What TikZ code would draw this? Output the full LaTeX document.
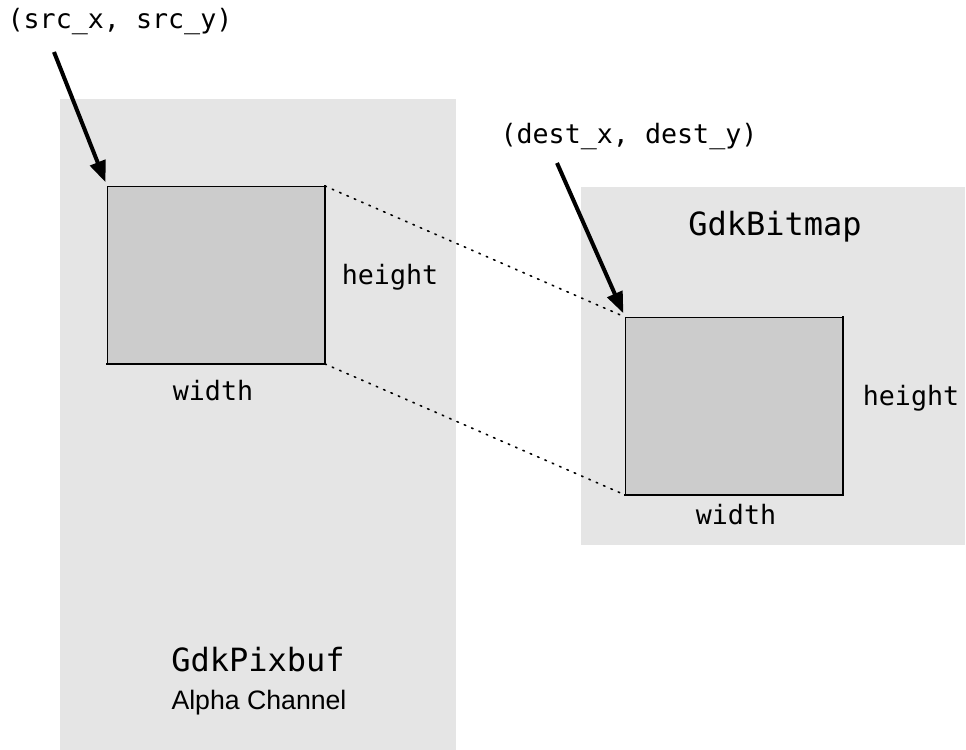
\documentclass[tikz,border=0pt]{standalone}
\usepackage{fontspec}
\setmainfont{Liberation Sans}
\newfontfamily\codefont{DejaVu Sans Mono}
\usetikzlibrary{arrows.meta}
\definecolor{panelgray}{HTML}{E5E5E5}
\definecolor{areagray}{HTML}{CCCCCC}
\tikzset{
  panel/.style={fill=panelgray, draw=none, inner sep=0pt, anchor=north west},
  area/.style={fill=areagray, draw=black, line width=0.7pt, inner sep=0pt,
               anchor=north west, minimum width=162.75pt, minimum height=132.75pt},
  shade edge/.style={line width=1.6pt, line cap=rect},
  codelabel/.style={font=\codefont\fontsize{20}{23}\selectfont, inner sep=0pt},
  titlelabel/.style={font=\codefont\fontsize{24}{28}\selectfont, inner sep=0pt},
  pointer/.style={line width=3pt, -{Triangle[length=16pt, width=12pt]}, shorten >=3pt},
  projection/.style={line width=1.2pt, dash pattern=on 1.2pt off 4.8pt, line cap=round}
}
\begin{document}
\begin{tikzpicture}[x=0.75pt, y=-0.75pt]
  \useasboundingbox (0,0) rectangle (966,749);

  % background surfaces
  \node[panel, minimum width=297pt, minimum height=490pt] (pixbuf) at (60,99) {};
  \node[panel, minimum width=288pt, minimum height=268.5pt] (bitmap) at (581,187) {};

  % copied regions
  \node[area] (src) at (107,186) {};
  \draw[shade edge] (src.north east) -- (src.south east) -- (src.south west);
  \node[area] (dst) at (625,317) {};
  \draw[shade edge] (dst.north east) -- (dst.south east) -- (dst.south west);

  % projection lines between the regions
  \draw[projection] (src.north east) -- (dst.north west);
  \draw[projection] (src.south east) -- (dst.south west);

  % labels
  \node[codelabel] (srclbl) at (120,22) {(src\_x, src\_y)};
  \node[codelabel] (dstlbl) at (629,137) {(dest\_x, dest\_y)};
  \node[codelabel] (srch) at (390,277) {height};
  \node[codelabel] (srcw) at (213,391) {width};
  \node[codelabel] (dsth) at (911,398) {height};
  \node[codelabel] (dstw) at (736,515) {width};
  \node[titlelabel] (bmtitle) at (775,227) {GdkBitmap};
  \node[titlelabel] (pbtitle) at (258,660) {GdkPixbuf};
  \node[font=\fontsize{20}{24}\selectfont, inner sep=0pt] (alpha) at (259,703) {Alpha Channel};

  % pointers to the region origins
  \coordinate (srctail) at (54,52);
  \coordinate (dsttail) at (557,163);
  \draw[pointer] (srctail) -- (src.north west);
  \draw[pointer] (dsttail) -- (dst.north west);
\end{tikzpicture}
\end{document}
